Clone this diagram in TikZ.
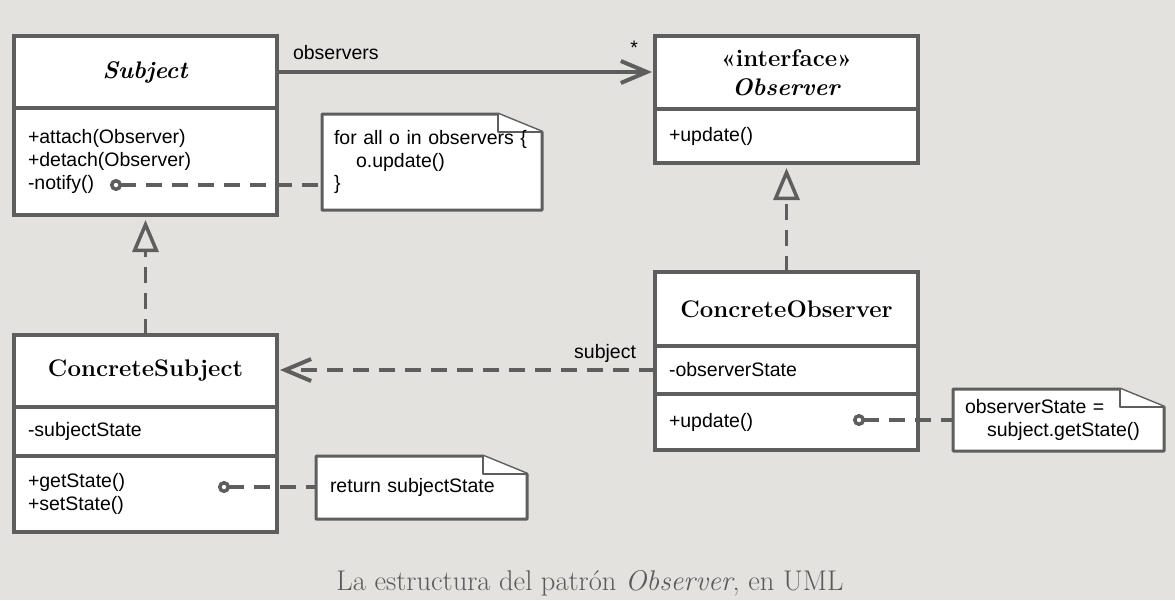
\documentclass[tikz,border=0pt]{standalone}
\usepackage{fontspec}
\newfontfamily\umlfont{Liberation Sans}
\usetikzlibrary{positioning,arrows.meta,backgrounds}

\definecolor{paper}{RGB}{227,226,222}
\definecolor{umlgray}{RGB}{94,94,94}
\definecolor{captiongray}{RGB}{90,90,90}

\begin{document}
\begin{tikzpicture}[x=1pt,y=-1pt,
  every node/.style={font=\umlfont\fontsize{19.5}{23}\selectfont, inner sep=0pt, outer sep=0pt, text=black},
  classhead/.style={draw=umlgray, line width=4pt, fill=white, minimum width=263pt, align=center, font=\fontsize{24}{29}\selectfont\bfseries},
  classpart/.style={draw=umlgray, line width=4pt, fill=white, text width=235pt, inner xsep=14pt, align=left},
  notetext/.style={text width=#1, inner xsep=12pt, align=left, anchor=north west, font=\umlfont\fontsize{19.5}{22.5}\selectfont},
  notebox/.style={draw=umlgray, line width=3pt, fill=white, line join=round},
  notefold/.style={draw=umlgray, line width=2.5pt, fill=white, line join=round},
  assoc/.style={umlgray, line width=4pt, shorten >=3pt, -{Straight Barb[length=26pt,width=22pt]}},
  realize/.style={umlgray, line width=3.5pt, dash pattern=on 16pt off 10pt, shorten >=5pt, -{Triangle[open,length=32pt,width=26pt]}},
  notelink/.style={umlgray, line width=3.5pt, dash pattern=on 16pt off 10pt, {Circle[open,length=12pt,width=12pt]}-},
  captiontext/.style={font=\fontsize{28.5}{32}\selectfont, text=captiongray, anchor=base}
]

% Subject
\node[classhead, minimum height=72pt, anchor=north west] (Sub_1) at (14,36) {\textit{Subject}};
\node[classpart, minimum height=107pt, below=0pt of Sub_1] (Sub_2) {+attach(Observer)\\+detach(Observer)\\-notify()};

% Observer
\node[classhead, minimum height=73pt, anchor=north west] (Obs_1) at (655,36) {«interface»\\\textit{Observer}};
\node[classpart, minimum height=54pt, below=0pt of Obs_1] (Obs_2) {+update()};

% ConcreteSubject
\node[classhead, minimum height=72pt, anchor=north west] (CSub_1) at (14,335) {ConcreteSubject};
\node[classpart, minimum height=49pt, below=0pt of CSub_1] (CSub_2) {-subjectState};
\node[classpart, minimum height=76pt, below=0pt of CSub_2] (CSub_3) {+getState()\\+setState()};

% ConcreteObserver
\node[classhead, minimum height=74pt, anchor=north west] (CObs_1) at (655,272) {ConcreteObserver};
\node[classpart, minimum height=48pt, below=0pt of CObs_1] (CObs_2) {-observerState};
\node[classpart, minimum height=56pt, below=0pt of CObs_2] (CObs_3) {+update()};

% Notes
\node[notetext=196pt, minimum height=96pt] (Note_1) at (322,114) {for all o in observers \{\\\hspace*{22pt}o.update()\\\}};
\node[notetext=183pt, inner xsep=14pt, minimum height=63pt] (Note_2) at (316,456) {return subjectState};
\node[notetext=187pt, minimum height=62pt] (Note_3) at (953,389) {observerState =\\\hspace*{22pt}subject.getState()};

\coordinate (notify) at (110,185);
\coordinate (getstate) at (218,487);
\coordinate (update) at (853,420);

% Relations
\draw[assoc] (Sub_1.east) -- (Sub_1.east -| Obs_1.west)
  node[pos=0, anchor=base west, xshift=16pt, yshift=13pt] {observers}
  node[pos=1, anchor=base east, xshift=-17pt, yshift=18pt] {*};
\draw[assoc, dash pattern=on 16pt off 10pt] (CObs_2.west) -- (CObs_2.west -| CSub_1.east)
  node[pos=0, anchor=base east, xshift=-19pt, yshift=12pt] {subject};
\draw[realize] (CSub_1.north) -- (Sub_2.south);
\draw[realize] (CObs_1.north) -- (Obs_2.south);

\draw[notelink] (notify) -- (notify -| Note_1.west);
\draw[notelink] (getstate) -- (getstate -| Note_2.west);
\draw[notelink] (update) -- (update -| Note_3.west);

% Caption
\node[captiontext] (caption) at (590,590) {La estructura del patrón \textit{Observer}, en UML};

\begin{scope}[on background layer]
\fill[paper] (0,0) rectangle (1175,600);
\foreach \n in {Note_1,Note_2,Note_3}{
  \draw[notebox] (\n.south west) -- (\n.north west) -- ([xshift=-44pt]\n.north east)
    -- ([yshift=-18pt]\n.north east) -- (\n.south east) -- cycle;
  \draw[notefold] ([xshift=-44pt]\n.north east) |- ([yshift=-18pt]\n.north east);
}
\end{scope}

\end{tikzpicture}
\end{document}
